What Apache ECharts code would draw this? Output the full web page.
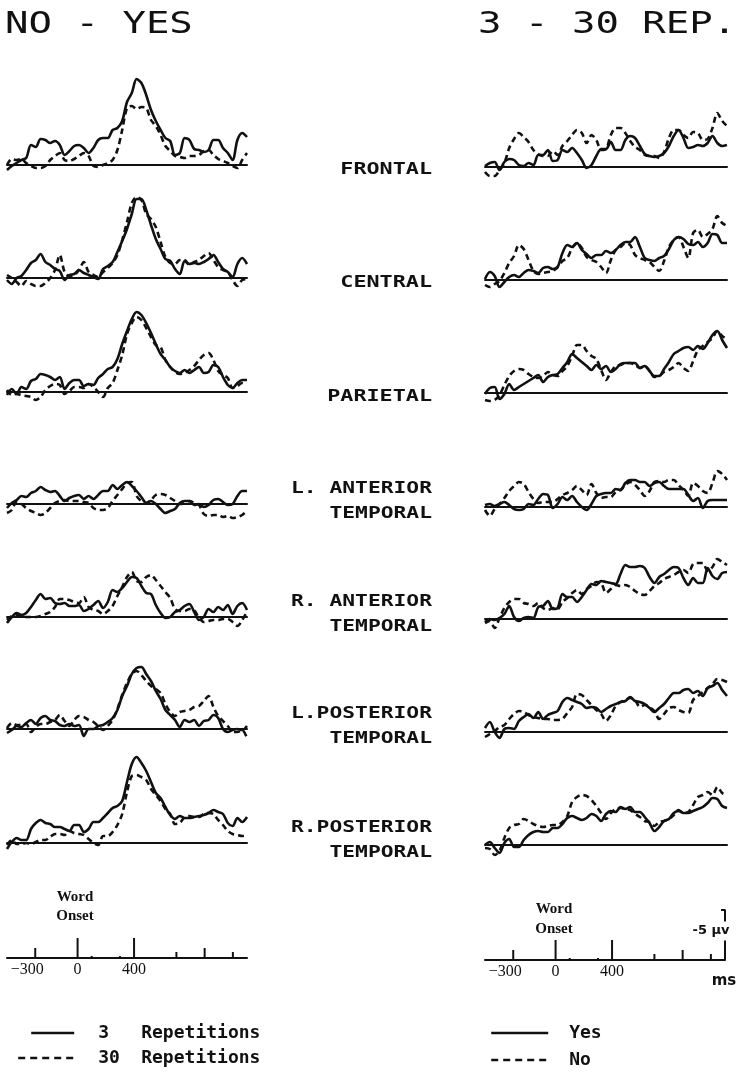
<!DOCTYPE html>
<html><head><meta charset="utf-8">
<script src="https://cdn.jsdelivr.net/npm/echarts@6/dist/echarts.min.js"></script>
<style>html,body{margin:0;padding:0;background:#fff}#c{width:741px;height:1079px}</style>
</head><body><div id="c"></div>
<script>
// ---- time samples (ms) ----
const times = [-500,-466,-432,-398,-364,-330,-296,-262,-228,-194,-160,-126,-92,-58,-24,10,44,78,112,146,180,214,248,282,316,350,384,418,452,486,520,554,588,622,656,690,724,758,792,826,860,894,928,962,996,1030,1064,1098,1132,1166,1200];

// ---- site labels ----
const siteLabels = [['FRONTAL'],['CENTRAL'],['PARIETAL'],['L. ANTERIOR','TEMPORAL'],['R. ANTERIOR','TEMPORAL'],['L.POSTERIOR','TEMPORAL'],['R.POSTERIOR','TEMPORAL']];

// ---- NO - YES difference waves (µV), 3 repetitions ----
const rep3Frontal = [0.5,0.1,-0.2,-0.5,-0.7,-2.0,-1.8,-2.6,-2.5,-2.2,-2.4,-2.0,-1.0,-1.4,-1.9,-2.0,-1.7,-1.2,-1.7,-2.5,-2.7,-2.7,-3.5,-3.7,-4.4,-6.3,-7.2,-8.6,-8.2,-7.0,-5.5,-4.4,-3.5,-2.7,-2.4,-1.0,-1.2,-2.7,-2.5,-1.6,-1.5,-1.3,-1.5,-2.5,-2.5,-1.7,-1.2,-0.5,-2.5,-3.2,-2.8];
const rep3Central = [0.2,0.6,0,-0.2,-0.8,-1.5,-1.8,-2.4,-1.6,-1.3,-0.9,-0.7,0.2,-0.3,-0.4,-0.8,-0.5,-0.3,-0.1,0.1,-0.9,-1.2,-1.6,-2.6,-3.7,-4.9,-6.4,-7.9,-7.9,-6.8,-5.3,-3.9,-2.9,-1.9,-1.7,-0.9,-0.4,-1.7,-1.4,-1.5,-1.4,-1.6,-1.9,-2.3,-1.6,-0.9,-0.6,-0.1,-1.4,-2.0,-1.4];
const rep3Parietal = [0.3,-0.3,0.2,-0.5,-0.3,-1.1,-1.3,-1.8,-1.7,-1.5,-1.2,-1.5,-0.3,-0.9,-1.2,-1.2,-0.6,-0.8,-0.7,-1.4,-1.8,-2.3,-2.5,-3.3,-4.8,-6.1,-7.3,-8.0,-7.7,-6.9,-5.9,-4.8,-3.8,-3.2,-2.5,-2.1,-1.9,-2.2,-1.9,-2.2,-2.5,-1.9,-2.0,-2.7,-2.5,-1.5,-0.7,-0.4,-0.9,-1.2,-1.2];
const rep3LAntTemp = [0.4,-0.1,-0.4,-0.8,-0.7,-1.1,-1.3,-1.7,-1.4,-1.2,-1.3,-0.8,-0.3,-0.6,-0.8,-0.9,-0.5,-0.8,-0.5,-0.9,-1.3,-1.3,-1.9,-1.5,-1.9,-2.2,-1.8,-1.3,-0.7,-0.1,-0.3,0,0.5,0.9,0.7,0.5,-0.1,-0.3,-0.3,0.1,0,0.3,0.1,-0.4,-0.5,-0.2,0.1,0,-0.8,-1.3,-1.3];
const rep3RAntTemp = [0.6,0,-0.4,-0.2,-0.4,-1.0,-1.7,-2.3,-1.8,-1.9,-1.4,-1.3,-1.4,-1.1,-1.1,-1.2,-0.6,-0.8,-1.2,-1.6,-0.9,-1.5,-2.7,-2.5,-2.9,-3.5,-4.0,-3.9,-3.1,-2.4,-2.3,-1.2,-0.4,0.1,0,-0.5,-0.7,-1.1,-1.3,-0.5,0.3,0,-0.8,-0.5,-1.0,-0.7,-1.2,-0.3,-1.1,-1.4,-0.7];
const rep3LPostTemp = [0.4,0.1,-0.3,-0.2,-0.6,-0.9,-0.5,-1.1,-1.3,-0.9,-0.8,-0.4,-0.3,-0.5,-0.3,-0.4,0.7,0,0,-0.3,-0.4,-0.7,-1.1,-1.9,-3.3,-4.3,-5.5,-6.1,-6.2,-5.5,-4.8,-3.8,-3.0,-1.9,-1.4,-0.9,-0.2,-0.9,-0.7,-0.9,-0.3,-0.8,-0.9,-1.4,-1.1,0,0.3,0.1,0,0.1,-0.3];
const rep3RPostTemp = [0.6,-0.1,-0.5,-0.3,-0.3,-1.4,-2.0,-2.3,-2.0,-1.9,-1.6,-1.6,-1.4,-1.2,-1.8,-1.8,-1.1,-1.4,-2.1,-2.1,-2.5,-3.0,-3.5,-3.7,-4.2,-6.1,-7.9,-8.6,-8.0,-7.2,-6.1,-5.0,-4.5,-3.6,-2.8,-2.4,-2.7,-2.5,-2.5,-2.6,-2.7,-2.8,-3.0,-3.3,-3.1,-2.9,-2.0,-1.7,-2.5,-2.1,-2.6];

// ---- NO - YES difference waves (µV), 30 repetitions ----
const rep30Frontal = [0,-0.6,-0.5,-0.6,-0.2,0.1,0.3,0.3,0.1,-0.5,-0.9,-1.2,-0.5,-0.4,-0.6,-0.9,-1.2,-0.9,0.1,0.2,0,-0.2,-0.5,-1.5,-3.5,-5.7,-5.9,-5.6,-5.8,-5.7,-4.5,-3.9,-3.0,-1.9,-1.4,-0.9,-0.8,-0.7,-0.9,-0.9,-1.0,-1.4,-1.5,-1.0,-0.6,-0.4,-0.2,0.1,0.3,-0.5,-1.2];
const rep30Central = [-0.3,0,0.4,0.8,0.3,0.6,0.8,0.8,0.5,0,-0.8,-2.3,-0.6,-0.2,-0.3,-0.8,-1.6,-0.6,-0.3,-0.1,-0.6,-1.0,-1.5,-2.3,-3.8,-5.6,-7.5,-8.1,-7.8,-6.4,-5.9,-5.1,-3.6,-2.1,-1.5,-1.4,-1.8,-1.8,-1.3,-1.6,-1.8,-2.2,-2.5,-1.8,-1.1,-0.8,-0.6,0.2,0.8,0.2,0.1];
const rep30Parietal = [-0.2,0.3,0.2,0.3,0.4,0.5,0.8,0.5,-0.2,-0.6,-0.8,-0.7,0.2,-0.1,-0.5,-0.5,-0.4,-0.8,-0.5,0,0.5,-0.4,-0.9,-2.2,-3.7,-5.8,-6.9,-7.5,-7.2,-6.4,-5.5,-4.7,-4.5,-3.2,-2.5,-2.0,-1.8,-1.9,-2.2,-2.6,-3.2,-3.7,-3.9,-3.2,-2.1,-1.7,-1.4,-0.4,-0.6,-0.9,-0.8];
const rep30LAntTemp = [0.9,0.6,-0.2,0,0.4,0.7,0.9,1.1,0.9,0.4,-0.1,-0.3,-0.4,-0.3,-0.3,-0.3,-0.2,-0.1,0.4,0.6,0.6,0.4,-0.3,-0.9,-1.5,-2.1,-2.2,-0.8,-0.3,-0.1,-0.4,-0.9,-1.0,-0.9,-0.6,-0.3,0,-0.1,-0.3,-0.1,0.1,1.0,1.2,1.1,1.1,1.3,1.2,1.4,1.3,1.1,0.7];
const rep30RAntTemp = [0.3,-0.1,-0.2,-0.2,0,0,0,-0.1,-0.3,-0.5,-1.0,-1.8,-1.8,-1.7,-1.5,-1.4,-2.0,-1.0,-0.7,-0.6,-0.3,-0.6,-1.1,-2.1,-3.0,-4.0,-4.5,-3.6,-3.5,-4.0,-4.2,-3.7,-3.1,-2.5,-1.9,-0.8,-0.6,-0.6,-0.8,-0.7,0.1,0.5,0.4,0.3,0.3,0.2,0.2,0.5,0.9,0.3,-0.5];
const rep30LPostTemp = [-0.1,-0.6,-0.4,-0.4,-0.5,0.3,-0.2,-0.5,-0.5,-0.7,-0.9,-1.4,-0.8,-0.3,-0.9,-1.3,-1.2,-0.9,-0.7,-0.3,0.1,-0.3,-0.9,-2.0,-3.4,-4.6,-5.5,-5.8,-5.4,-4.8,-4.3,-4.0,-3.6,-2.5,-1.7,-1.3,-1.7,-1.8,-1.9,-2.2,-2.3,-2.8,-3.3,-2.2,-1.3,-0.8,-0.3,0.3,0.3,0.1,0.9];
const rep30RPostTemp = [0.2,-0.3,0.1,0.1,0,0.1,-0.1,-0.3,-0.3,-0.6,-0.9,-0.9,-0.8,-1.2,-1.0,-0.9,-0.8,-0.4,0,0.2,-0.7,-0.7,-1.1,-1.8,-2.9,-5.1,-6.7,-6.8,-6.6,-6.3,-5.4,-4.8,-4.2,-3.4,-2.9,-1.9,-2.0,-2.6,-2.7,-2.6,-2.6,-2.9,-3.0,-2.9,-2.3,-1.8,-1.2,-0.9,-0.8,-0.7,-0.8];

// ---- 3 - 30 REP. difference waves (µV), Yes ----
const yesFrontal = [-0.1,-0.4,-0.5,0.3,-0.5,-0.8,-0.7,-0.2,-0.1,-0.4,-0.2,-1.2,-1.2,-1.7,-0.6,-0.7,-1.7,-1.5,-1.9,-1.4,-0.7,0.1,-0.2,-1.1,-1.8,-1.8,-2.5,-1.7,-1.7,-2.7,-3.1,-2.9,-2.1,-1.3,-1.1,-1.0,-1.1,-1.4,-2.1,-3.1,-3.7,-2.9,-1.9,-2.0,-2.2,-2.1,-2.4,-3.1,-2.4,-2.1,-2.2];
const yesCentral = [-0.1,-0.8,-0.4,0.7,0.2,-0.3,-0.5,-0.3,-0.7,-1.0,-0.9,-0.7,-1.2,-1.3,-1.1,-1.3,-2.7,-3.5,-3.3,-3.7,-3.0,-2.6,-2.2,-2.5,-2.5,-2.9,-2.7,-3.0,-3.5,-3.8,-3.8,-4.3,-3.3,-2.2,-2.0,-1.9,-2.2,-2.4,-3.1,-4.0,-4.3,-4.1,-3.6,-3.5,-3.8,-3.3,-3.7,-4.6,-4.5,-3.7,-3.7];
const yesParietal = [0.1,-0.5,-0.6,0.6,0.1,-0.9,-0.3,-0.6,-0.9,-1.2,-1.5,-1.8,-1.1,-1.6,-1.8,-1.9,-2.5,-3.1,-3.9,-3.5,-3.1,-2.7,-2.3,-2.8,-2.4,-2.7,-2.1,-2.4,-2.9,-3.0,-3.0,-3.0,-2.5,-2.7,-2.2,-1.7,-1.7,-2.4,-3.1,-3.9,-4.2,-4.5,-4.6,-4.3,-4.7,-4.4,-5.0,-5.8,-6.2,-5.3,-4.5];
const yesLAntTemp = [-0.2,-0.3,-0.1,-0.3,-0.5,-0.2,0.2,0.3,0.2,-0.3,-0.2,-0.8,-1.3,-1.2,0.1,-0.3,-1.0,-0.7,-1.1,-0.5,0,0.3,-0.3,-1.1,-1.3,-1.4,-1.4,-1.8,-1.7,-2.4,-2.7,-2.7,-2.5,-2.5,-2.1,-2.4,-2.5,-2.1,-1.8,-1.8,-1.8,-1.8,-1.2,-0.6,-0.9,0.1,-0.6,-0.7,-0.7,-0.7,-0.7];
const yesRAntTemp = [0.3,0,0.1,-0.1,-0.5,-1.3,-0.2,0.2,-0.1,-0.2,-0.1,-1.2,-1.3,-1.8,-1.0,-1.1,-2.5,-2.2,-2.2,-1.7,-2.2,-2.9,-3.5,-3.4,-3.8,-3.7,-3.6,-3.5,-4.5,-5.4,-5.2,-5.2,-5.3,-5.1,-4.2,-3.6,-4.2,-4.5,-4.9,-5.2,-5.1,-4.1,-3.4,-4.1,-3.6,-3.6,-5.1,-4.3,-4.0,-4.6,-4.7];
const yesLPostTemp = [-0.4,-1.0,0,0.6,-0.3,-0.4,-0.3,-1.1,-1.5,-1.8,-1.4,-2.0,-1.3,-1.7,-1.9,-2.1,-3.0,-3.4,-3.2,-3.0,-2.8,-2.4,-2.5,-2.4,-2.0,-2.3,-2.6,-2.8,-3.0,-3.1,-3.5,-3.1,-3.0,-2.8,-2.4,-2.0,-2.4,-2.8,-3.4,-3.9,-3.9,-4.2,-4.3,-3.9,-4.1,-3.6,-4.4,-4.6,-4.9,-4.2,-3.6];
const yesRPostTemp = [0,-0.3,0.3,0.8,-0.2,-0.6,0.2,0.2,-0.5,-1.0,-1.3,-1.4,-1.3,-1.3,-1.7,-1.7,-2.1,-2.7,-2.9,-2.7,-2.5,-2.7,-3.1,-2.9,-2.4,-3.1,-3.4,-3.3,-3.8,-3.6,-3.8,-3.3,-3.3,-2.8,-2.2,-1.4,-1.8,-2.4,-2.6,-3.2,-3.4,-3.2,-3.2,-3.4,-3.6,-3.8,-4.2,-4.7,-4.6,-3.9,-3.7];

// ---- 3 - 30 REP. difference waves (µV), No ----
const noFrontal = [0.5,0.9,0.9,0.3,-0.4,-1.9,-2.8,-3.4,-3.0,-2.5,-1.7,-1.3,-1.1,-1.1,-1.6,-1.2,-2.1,-2.6,-3.2,-3.7,-3.4,-2.4,-3.2,-2.7,-1.7,-1.8,-3.2,-3.9,-3.9,-3.4,-2.6,-2.0,-1.7,-1.2,-1.1,-1.1,-0.9,-1.5,-2.9,-3.7,-3.7,-3.2,-2.9,-3.5,-3.4,-2.7,-2.8,-3.9,-5.4,-4.6,-4.1];
const noCentral = [0.5,0.7,0.4,0.1,-0.7,-1.7,-2.4,-3.5,-3.1,-2.0,-0.9,-0.6,-0.7,-0.8,-0.9,-1.3,-1.9,-2.2,-3.2,-3.7,-3.2,-2.3,-2.0,-1.8,-1.3,-0.7,-2.0,-3.0,-3.3,-3.7,-3.5,-2.5,-2.2,-2.0,-1.8,-1.3,-0.9,-1.9,-3.3,-4.0,-4.3,-3.3,-2.2,-4.7,-5.0,-4.3,-4.6,-5.1,-6.4,-5.7,-5.4];
const noParietal = [0.7,0.8,0.7,0.2,-0.8,-1.7,-2.2,-2.4,-2.3,-1.9,-1.6,-1.5,-1.7,-2.1,-1.8,-1.7,-2.2,-2.7,-3.7,-4.8,-4.8,-4.2,-3.7,-3.4,-2.3,-1.3,-2.1,-2.7,-2.8,-3.0,-3.0,-2.8,-2.5,-2.7,-2.2,-1.6,-1.7,-2.1,-2.3,-2.6,-3.0,-2.5,-2.2,-3.2,-4.3,-4.7,-5.1,-5.5,-6.2,-5.7,-5.4];
const noLAntTemp = [0.3,0.9,0.2,-0.3,-0.9,-1.6,-2.1,-2.5,-2.3,-1.5,-0.8,-0.4,-0.5,-0.5,-0.5,-0.8,-1.2,-1.4,-1.7,-2.1,-1.7,-1.2,-2.3,-1.4,-0.9,-1.0,-1.0,-1.5,-1.7,-2.2,-2.5,-2.2,-1.7,-1.1,-1.6,-2.5,-2.6,-2.5,-2.7,-2.7,-2.2,-1.7,-1.1,-2.4,-2.1,-1.6,-1.4,-2.4,-3.6,-3.3,-2.7];
const noRAntTemp = [0.4,0.2,0.9,-0.1,-1.1,-1.7,-2.0,-2.0,-1.6,-1.5,-1.3,-1.6,-1.1,-0.9,-1.1,-1.0,-1.7,-2.1,-2.6,-2.9,-2.5,-3.0,-3.3,-3.7,-3.6,-2.6,-3.0,-3.4,-3.3,-3.4,-3.2,-2.8,-2.5,-2.4,-2.8,-3.3,-3.6,-4.0,-4.2,-4.4,-4.7,-4.9,-4.6,-5.5,-5.6,-5.6,-4.8,-5.2,-6.0,-5.7,-5.4];
const noLPostTemp = [0.5,0.2,-0.1,-0.5,-0.7,-1.3,-1.8,-2.1,-2.0,-1.7,-1.5,-1.4,-1.3,-1.3,-1.2,-1.2,-1.3,-1.9,-2.5,-3.8,-3.7,-3.2,-2.7,-2.2,-1.8,-1.1,-1.7,-2.6,-3.0,-3.2,-3.4,-3.2,-2.5,-2.7,-2.5,-2.1,-1.3,-1.8,-2.4,-2.5,-2.2,-2.0,-1.9,-3.2,-3.6,-4.0,-4.4,-4.8,-5.3,-5.2,-5.0];
const noRPostTemp = [0.3,0.4,1.0,0.6,-0.7,-1.7,-2.0,-2.1,-2.6,-2.4,-2.1,-1.9,-1.8,-1.9,-2.0,-2.0,-2.3,-2.9,-4.3,-4.8,-5.0,-4.9,-4.5,-3.9,-3.2,-2.6,-3.2,-3.6,-3.7,-3.6,-3.5,-3.1,-2.8,-2.4,-2.3,-1.9,-2.3,-2.4,-2.6,-3.0,-3.5,-3.2,-3.3,-4.0,-4.8,-5.0,-5.3,-5.0,-5.8,-5.2,-5.0];

// ---- time axis ticks (ms) & scale ----
const tickLabelled = [-300, 0, 400];
const tickLong = [0, 400];
const tickMid = [-300, 900];
const tickShort = [700, 1100];
const tickTiny = [100, 300];
const scaleBarUv = -5;
const scaleBarMs = 1200;

const rep3 = [rep3Frontal, rep3Central, rep3Parietal, rep3LAntTemp, rep3RAntTemp, rep3LPostTemp, rep3RPostTemp];
const rep30 = [rep30Frontal, rep30Central, rep30Parietal, rep30LAntTemp, rep30RAntTemp, rep30LPostTemp, rep30RPostTemp];
const yes = [yesFrontal, yesCentral, yesParietal, yesLAntTemp, yesRAntTemp, yesLPostTemp, yesRPostTemp];
const no = [noFrontal, noCentral, noParietal, noLAntTemp, noRAntTemp, noLPostTemp, noRPostTemp];

// ---- layout (pixels) ----
const leftBase = [165, 278, 392, 504, 617, 729, 843];
const rightBase = [167, 280, 393, 507, 619, 732, 845];
const INK = '#111';
const DASH = [6, 4];
const LW = 2.6;

const grids = [], xAxes = [], yAxes = [], series = [];
function addPlot(left, width, base) {
  const i = grids.length;
  grids.push({left: left, top: base - 100, width: width, height: 120, outerBoundsMode: 'none'});
  xAxes.push({gridIndex: i, type: 'value', min: -500, max: 1200, axisLine: {show: true, onZero: true, lineStyle: {color: INK, width: 2}}, axisTick: {show: false}, axisLabel: {show: false}, splitLine: {show: false}});
  yAxes.push({gridIndex: i, type: 'value', min: -10, max: 2, inverse: true, show: false});
  return i;
}
function lineSeries(idx, name, vals, dashed) {
  return {type: 'line', name: name, xAxisIndex: idx, yAxisIndex: idx, data: times.map((t, k) => [t, vals[k]]),
    symbol: 'none', showSymbol: false, smooth: 0.3, silent: true,
    lineStyle: {color: INK, width: LW, type: dashed ? DASH : 'solid'}, itemStyle: {color: INK}, z: dashed ? 3 : 2};
}
for (let r = 0; r < 7; r++) {
  const li = addPlot(7, 240, leftBase[r]);
  series.push(lineSeries(li, '3 Repetitions', rep3[r], false));
  series.push(lineSeries(li, '30 Repetitions', rep30[r], true));
}
for (let r = 0; r < 7; r++) {
  const ri = addPlot(485, 242, rightBase[r]);
  series.push(lineSeries(ri, 'Yes', yes[r], false));
  series.push(lineSeries(ri, 'No', no[r], true));
}
// bottom time axes
function addTimeAxis(left, top) {
  const i = grids.length;
  grids.push({left: left, top: top, width: 240, height: 60, outerBoundsMode: 'none'});
  xAxes.push({gridIndex: i, type: 'value', min: -500, max: 1200, interval: 100,
    axisLine: {show: true, onZero: false, lineStyle: {color: INK, width: 2}}, axisTick: {show: false}, splitLine: {show: false},
    axisLabel: {show: true, margin: 4, color: INK, fontFamily: '"Liberation Serif", serif', fontSize: 16,
      formatter: v => tickLabelled.includes(v) ? (v < 0 ? '{neg|\u2212' + Math.abs(v) + '}' : String(v)) : '',
      rich: {neg: {fontFamily: '"Liberation Serif", serif', fontSize: 16, color: INK, padding: [0, 16, 0, 0]}}}});
  yAxes.push({gridIndex: i, type: 'value', min: -6, max: 0, inverse: true, show: false});
  const mk = (ticks, len) => ({type: 'custom', xAxisIndex: i, yAxisIndex: i, silent: true, data: ticks.map(t => [t, 0]),
    renderItem: (p, api) => { const c = api.coord([api.value(0), 0]); return {type: 'line', shape: {x1: c[0], y1: c[1], x2: c[0], y2: c[1] - len}, style: {stroke: INK, lineWidth: 2}}; }});
  series.push(mk(tickLong, 20), mk(tickMid, 10), mk(tickShort, 6), mk(tickTiny, 2));
  return i;
}
addTimeAxis(7, 898);
const rb = addTimeAxis(485, 900);
series.push({type: 'line', name: 'scale', xAxisIndex: rb, yAxisIndex: rb, clip: false, symbol: 'none', silent: true,
  data: [[scaleBarMs - 28, scaleBarUv], [scaleBarMs, scaleBarUv], [scaleBarMs, 0]], lineStyle: {color: INK, width: 2}});

// ---- text ----
const graphics = [];
function txt(x, y, text, font, align, sx, extra) {
  graphics.push({type: 'text', x: x, y: y, scaleX: sx || 1, z: 10,
    style: Object.assign({text: text, x: 0, y: 0, align: align || 'left', verticalAlign: 'middle', font: font, fill: INK}, extra || {})});
}
const titleFont = '30px "DejaVu Sans Mono"';
txt(5, 25, 'NO - YES', titleFont, 'left', 1.3);
txt(478, 25, '3 - 30 REP.', titleFont, 'left', 1.3);
const siteFont = 'bold 15px "DejaVu Sans Mono"';
for (let r = 0; r < 7; r++) {
  const lines = siteLabels[r];
  if (lines.length === 1) txt(432, leftBase[r] + 5, lines[0], siteFont, 'right', 1.45);
  else { txt(432, leftBase[r] - 15, lines[0], siteFont, 'right', 1.42); txt(432, leftBase[r] + 10, lines[1], siteFont, 'right', 1.42); }
}
const serifB = 'bold 15px "Liberation Serif"';
txt(75, 897, 'Word', serifB, 'center');
txt(75, 916, 'Onset', serifB, 'center');
txt(554, 909, 'Word', serifB, 'center');
txt(554, 929, 'Onset', serifB, 'center');
txt(711, 931, '-5 \u00b5v', 'bold 13px "DejaVu Sans"', 'center', 1, {backgroundColor: '#fff', padding: [3, 1]});
txt(724, 981, 'ms', 'bold 15px "DejaVu Sans"', 'center');

// ---- legends (one per item for exact placement) ----
const legendFont = {fontFamily: '"DejaVu Sans Mono"', fontWeight: 'bold', fontSize: 18, color: INK};
function legendItem(name, left, top, iconW, textPad, dashed) {
  return {show: true, left: left, top: top, padding: 0, orient: 'vertical', itemWidth: iconW, itemHeight: 14, selectedMode: false,
    data: [name], itemStyle: {opacity: 0, color: 'rgba(0,0,0,0)', borderWidth: 0},
    lineStyle: {width: 2.4, color: INK, type: dashed ? [7, 5] : 'solid'},
    textStyle: Object.assign({padding: [0, 0, 0, textPad], rich: {n: Object.assign({width: 43}, legendFont), w: Object.assign({}, legendFont)}}, legendFont),
    formatter: n => { const k = n.indexOf(' '); return k < 0 ? n : '{n|' + n.slice(0, k) + '}{w|' + n.slice(k + 1) + '}'; }};
}
const chart = echarts.init(document.getElementById('c'), null, {renderer: 'canvas'});
chart.setOption({
  animation: false,
  backgroundColor: '#fff',
  grid: grids, xAxis: xAxes, yAxis: yAxes, series: series,
  legend: [
    legendItem('3 Repetitions', 30, 1024, 43, 19, false),
    legendItem('30 Repetitions', 17, 1049, 56, 19, true),
    legendItem('Yes', 490, 1024, 57, 16, false),
    legendItem('No', 490, 1051, 57, 16, true)
  ],
  graphic: graphics
});
</script></body></html>
